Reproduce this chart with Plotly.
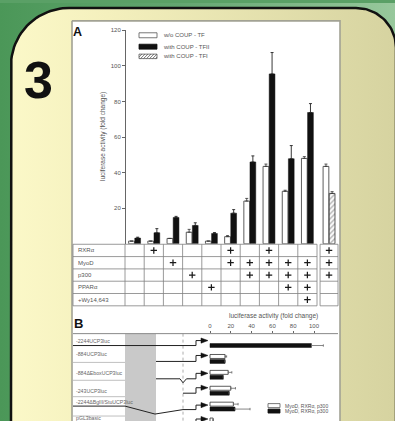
import numpy as np
import plotly.graph_objects as go

W, H = 395, 421
FONT = "Liberation Sans, Arial, sans-serif"

# ---------------- Panel A: luciferase activity per co-transfection ----------------
conditions = ["basal", "RXRα", "MyoD", "p300", "PPARα", "RXRα+MyoD", "MyoD+p300",
              "RXRα+MyoD+p300", "MyoD+p300+PPARα", "MyoD+p300+PPARα+Wy14,643",
              "RXRα+MyoD+p300 (TFI)"]
wo_coup = [1.5, 1.5, 3.0, 6.5, 1.5, 4.0, 24.0, 43.5, 29.5, 48.0, 43.5]
wo_coup_err = [None, None, None, 1.6, None, 0.6, 1.5, 1.3, 0.6, 1.0, 1.3]
with_tfii = [3.2, 6.2, 14.8, 10.3, 5.8, 17.2, 46.0, 95.5, 47.8, 73.8, None]
with_tfii_err = [0.5, 2.3, 0.6, 1.5, 0.5, 2.0, 3.4, 12.0, 7.4, 5.0, None]
with_tfi = [None] * 10 + [28.3]
with_tfi_err = [None] * 10 + [1.0]

factor_names = ["RXRα", "MyoD", "p300", "PPARα", "+Wy14,643"]
rxr = [0, 1, 0, 0, 0, 1, 0, 1, 0, 0, 1]
myod = [0, 0, 1, 0, 0, 1, 1, 1, 1, 1, 1]
p300 = [0, 0, 0, 1, 0, 0, 1, 1, 1, 1, 1]
ppar = [0, 0, 0, 0, 1, 0, 0, 0, 1, 1, 0]
wy = [0, 0, 0, 0, 0, 0, 0, 0, 0, 1, 0]
a_ticks = [20, 40, 60, 80, 100, 120]
a_legend = ["w/o COUP - TF", "with COUP - TFII", "with COUP - TFI"]

# ---------------- Panel B: promoter deletion constructs ----------------
constructs = ["-2244UCP3luc", "-884UCP3luc", "-884ΔEboxUCP3luc", "-243UCP3luc",
              "-2244ΔBglII/StuUCP3luc", "pGL3basic"]
b_wo = [None, 14.5, 17.5, 20.0, 22.5, 3.0]
b_wo_err = [None, 1.5, 3.5, 4.5, 4.5, None]
b_with = [97.5, 14.5, 12.8, 18.5, 24.0, None]
b_with_err = [11.5, None, None, None, 14.5, None]
b_ticks = [0, 20, 40, 60, 80, 100]
b_legend = ["MyoD, RXRα, p300", "MyoD, RXRα, p300"]


def fx(px):
    return px / W


def fy(py):
    return 1 - py / H


def ppath(points):
    return "M " + " L ".join(f"{fx(x):.5f},{fy(y):.5f}" for x, y in points)


def plus_only(err):
    return [0 if e is not None else None for e in err]


fig = go.Figure()

# ---------------- poster background (pixel coordinates on axes x / y) ----------------
fig.add_trace(go.Scatter(
    x=[0, W, W, 0, 0], y=[0, 0, H, H, 0], mode="lines", fill="toself",
    line=dict(width=0), hoverinfo="skip", showlegend=False,
    fillgradient=dict(type="horizontal",
                      colorscale=[[0, "#4b9758"], [0.45, "#63a670"], [1, "#97c89c"]])))

left, top, right = 11, 5, 396
rl, rr = 58, 40
th1 = np.linspace(np.pi, 1.5 * np.pi, 30)
th2 = np.linspace(1.5 * np.pi, 2 * np.pi, 30)
px_ = ([left] + list(left + rl + rl * np.cos(th1)) + list(right - rr + rr * np.cos(th2))
       + [right, left])
py_ = ([H + 10] + list(top + rl + rl * np.sin(th1)) + list(top + rr + rr * np.sin(th2))
       + [H + 10, H + 10])
fig.add_trace(go.Scatter(
    x=px_, y=py_, mode="lines", fill="toself", line=dict(color="#111", width=2.5),
    hoverinfo="skip", showlegend=False,
    fillgradient=dict(type="horizontal",
                      colorscale=[[0, "#fbf8c8"], [0.25, "#f4f0bd"], [1, "#d6d3a0"]])))

fig.add_trace(go.Scatter(
    x=[72, 340, 340, 72, 72], y=[18, 18, H + 10, H + 10, 18], mode="lines", fill="toself",
    fillcolor="white", line=dict(color="#a2a294", width=1.6), hoverinfo="skip",
    showlegend=False))

# ---------------- Panel A bars ----------------
COL_PX = 19.2          # table column width in pixels
X0_PX = 125.0          # pixel position of column boundary 0 (y-axis)
XA_LEFT, XA_RIGHT = 73.0, 338.0
xa_range = [(XA_LEFT - X0_PX) / COL_PX, (XA_RIGHT - X0_PX) / COL_PX]
tfi_left = 10.16
xa = [i + 0.5 for i in range(10)] + [(tfi_left + xa_range[1]) / 2]

bar_w = 0.3
fig.add_trace(go.Bar(
    x=xa, y=wo_coup, xaxis="x2", yaxis="y2", width=bar_w, offset=-0.31,
    marker=dict(color="white", line=dict(color="#333", width=0.8)),
    error_y=dict(type="data", symmetric=False, array=wo_coup_err,
                 arrayminus=plus_only(wo_coup_err), color="#333", thickness=0.8, width=1.5),
    hovertext=conditions, showlegend=False))
fig.add_trace(go.Bar(
    x=xa, y=with_tfii, xaxis="x2", yaxis="y2", width=bar_w, offset=0.01,
    marker=dict(color="#111", line=dict(color="#111", width=0.5)),
    error_y=dict(type="data", symmetric=False, array=with_tfii_err,
                 arrayminus=plus_only(with_tfii_err), color="#222", thickness=0.9, width=1.5),
    hovertext=conditions, showlegend=False))
fig.add_trace(go.Bar(
    x=xa, y=with_tfi, xaxis="x2", yaxis="y2", width=bar_w, offset=0.01,
    marker=dict(color="white", line=dict(color="#333", width=0.8),
                pattern=dict(shape="/", fgcolor="#444", bgcolor="white", size=3.5,
                             solidity=0.35)),
    error_y=dict(type="data", symmetric=False, array=with_tfi_err,
                 arrayminus=plus_only(with_tfi_err), color="#333", thickness=0.8, width=1.5),
    hovertext=conditions, showlegend=False))

# ---------------- Panel A factor table ----------------
factors = [rxr, myod, p300, ppar, wy]
px_x, px_y = [], []
for r, flags in enumerate(factors):
    for i, f in enumerate(flags):
        if f:
            px_x.append(xa[i])
            px_y.append(r + 0.5)
fig.add_trace(go.Scatter(
    x=px_x, y=px_y, xaxis="x2", yaxis="y3", mode="markers", hoverinfo="skip",
    marker=dict(symbol="cross-thin", size=4.6, line=dict(color="#1a1a1a", width=1.25)),
    showlegend=False))

# ---------------- Panel B bars ----------------
fig.add_trace(go.Bar(
    y=constructs, x=b_wo, orientation="h", xaxis="x4", yaxis="y4", width=0.25,
    offset=-0.28, marker=dict(color="white", line=dict(color="#333", width=0.8)),
    error_x=dict(type="data", symmetric=False, array=b_wo_err,
                 arrayminus=plus_only(b_wo_err), color="#666", thickness=0.8, width=1.2),
    showlegend=False))
fig.add_trace(go.Bar(
    y=constructs, x=b_with, orientation="h", xaxis="x4", yaxis="y4", width=0.25,
    offset=0.03, marker=dict(color="#111", line=dict(color="#111", width=0.5)),
    error_x=dict(type="data", symmetric=False, array=b_with_err,
                 arrayminus=plus_only(b_with_err), color="#666", thickness=0.8, width=1.2),
    showlegend=False))

# ---------------- shapes ----------------
shapes = []
TABLE_TOP, TABLE_BOT = 243.0, 305.0
GRID = dict(color="#808080", width=0.8)


def colpx(u):
    return X0_PX + u * COL_PX


n_rows = len(factor_names)
row_h = (TABLE_BOT - TABLE_TOP) / n_rows
# vertical table lines
for u in [xa_range[0]] + list(range(11)) + [tfi_left, xa_range[1]]:
    shapes.append(dict(type="line", xref="paper", yref="paper", x0=fx(colpx(u)),
                       x1=fx(colpx(u)), y0=fy(TABLE_TOP), y1=fy(TABLE_BOT), line=GRID))
# horizontal table lines
for r in range(n_rows + 1):
    yy = fy(TABLE_TOP + r * row_h)
    for a, b in [(xa_range[0], 10), (tfi_left, xa_range[1])]:
        shapes.append(dict(type="line", xref="paper", yref="paper", x0=fx(colpx(a)),
                           x1=fx(colpx(b)), y0=yy, y1=yy, line=GRID))

# legend swatches for panel A
LEG_X0, LEG_X1 = 139, 157
leg_rows = [(30, 35), (41.5, 46.5), (51.5, 56)]
shapes.append(dict(type="rect", xref="paper", yref="paper", x0=fx(LEG_X0), x1=fx(LEG_X1),
                   y0=fy(leg_rows[0][1]), y1=fy(leg_rows[0][0]), fillcolor="white",
                   line=dict(color="#555", width=0.8)))
shapes.append(dict(type="rect", xref="paper", yref="paper", x0=fx(LEG_X0), x1=fx(LEG_X1),
                   y0=fy(leg_rows[1][1]), y1=fy(leg_rows[1][0]), fillcolor="#111",
                   line=dict(color="#111", width=0.8)))
y_t, y_b = leg_rows[2]
hh = y_b - y_t
for x0 in np.arange(LEG_X0 - hh, LEG_X1, 3):
    xs, xe = max(x0, LEG_X0), min(x0 + hh, LEG_X1)
    shapes.append(dict(type="line", xref="paper", yref="paper",
                       x0=fx(xs), y0=fy(y_b - (xs - x0)), x1=fx(xe), y1=fy(y_b - (xe - x0)),
                       line=dict(color="#555", width=0.8)))
shapes.append(dict(type="rect", xref="paper", yref="paper", x0=fx(LEG_X0), x1=fx(LEG_X1),
                   y0=fy(y_b), y1=fy(y_t), line=dict(color="#555", width=0.8)))

# panel B: header rule, shaded region, dotted marker
B_TOP = 333.0
shapes.append(dict(type="rect", xref="paper", yref="paper", x0=fx(125), x1=fx(156),
                   y0=fy(H + 5), y1=fy(B_TOP), fillcolor="#c9c9c9", line=dict(width=0)))
shapes.append(dict(type="line", xref="paper", yref="paper", x0=fx(183), x1=fx(183),
                   y0=fy(B_TOP), y1=fy(H + 5), line=dict(color="#999", width=0.8, dash="dot")))
shapes.append(dict(type="line", xref="paper", yref="paper", x0=fx(73), x1=fx(338),
                   y0=fy(B_TOP), y1=fy(B_TOP), line=dict(color="#888", width=1)))

# label cell rules
for yy in [362, 380, 396.5, 416]:
    shapes.append(dict(type="line", xref="paper", yref="paper", x0=fx(73), x1=fx(125),
                       y0=fy(yy), y1=fy(yy), line=dict(color="#b0b0b0", width=0.8)))

# construct maps with promoter arrows
ARROW_X = 196
maps = [
    ([(73, 345), (ARROW_X, 345)], 340),
    ([(156, 361), (ARROW_X, 361)], 355),
    ([(156, 378.5), (180, 378.5), (183, 382.5), (186.5, 378.5), (ARROW_X, 378.5)], 373),
    ([(183, 393), (ARROW_X, 393)], 387.5),
    ([(73, 406), (125, 406), (155, 414), (183, 409.5), (ARROW_X, 409.5)], 405),
    ([(ARROW_X, 424)], 419),
]
LINE = dict(color="#222", width=1)
for pts, ay in maps:
    if len(pts) > 1:
        shapes.append(dict(type="path", xref="paper", yref="paper", path=ppath(pts),
                           line=LINE))
    base_y = pts[-1][1]
    shapes.append(dict(type="path", xref="paper", yref="paper",
                       path=ppath([(ARROW_X, base_y), (ARROW_X, ay), (202, ay)]), line=LINE))
    shapes.append(dict(type="path", xref="paper", yref="paper",
                       path=ppath([(201, ay - 2.6), (208, ay), (201, ay + 2.6)]) + " Z",
                       fillcolor="#111", line=dict(color="#111", width=0.5)))

# panel B legend swatches
shapes.append(dict(type="rect", xref="paper", yref="paper", x0=fx(268), x1=fx(280),
                   y0=fy(407.5), y1=fy(403.5), fillcolor="white",
                   line=dict(color="#555", width=0.8)))
shapes.append(dict(type="rect", xref="paper", yref="paper", x0=fx(268), x1=fx(280),
                   y0=fy(413), y1=fy(409), fillcolor="#111", line=dict(color="#111", width=0.8)))

# ---------------- annotations ----------------
TXT = "#555"
ann = []


def note(text, x, y, size, color=TXT, xanchor="center", yref="paper", family=FONT, **kw):
    ann.append(dict(text=text, x=x, y=y, xref="paper", yref=yref, xanchor=xanchor,
                    yanchor="middle", showarrow=False,
                    font=dict(family=family, size=size, color=color), **kw))


note("<b>3</b>", fx(38.5), fy(78), 52, color="#111",
     family="Liberation Sans Narrow, " + FONT)
note("<b>A</b>", fx(77.5), fy(29), 12.5, color="#111")
note("<b>B</b>", fx(78), fy(322.5), 13, color="#111")
note("luciferase activity (fold change)", fx(103), fy(135), 6.5, textangle=-90)
for (yt, yb), label in zip(leg_rows, a_legend):
    note(label, fx(161), fy((yt + yb) / 2), 6, xanchor="left")
for r, name in enumerate(factor_names):
    note(name, fx(76), r + 0.5, 6, xanchor="left", yref="y3")
note("luciferase activity (fold change)", fx(273), fy(315), 6.5)
label_py = [340, 354, 372.5, 390.5, 401.5, 418]
for yy, name in zip(label_py, constructs):
    note(name, fx(74), fy(yy), 5.2, color="#666", xanchor="left")
for yy, label in zip([405.5, 411], b_legend):
    note(label, fx(283), fy(yy), 5, xanchor="left")

# ---------------- layout ----------------
row_c0, row_pitch = 342.5, 16.0
fig.update_layout(
    width=W, height=H, margin=dict(l=0, r=0, t=0, b=0),
    paper_bgcolor="#5aa066", plot_bgcolor="rgba(0,0,0,0)",
    barmode="overlay", showlegend=False, font=dict(family=FONT),
    xaxis=dict(domain=[0, 1], range=[0, W], visible=False, fixedrange=True),
    yaxis=dict(domain=[0, 1], range=[H, 0], visible=False, fixedrange=True),
    xaxis2=dict(domain=[fx(XA_LEFT), fx(XA_RIGHT)], range=xa_range, anchor="y2",
                visible=False),
    yaxis2=dict(domain=[fy(242.5), fy(27.5)], range=[0, 120], anchor="free",
                position=fx(X0_PX), tickvals=a_ticks, ticks="outside", ticklen=3,
                tickcolor="#666", showline=True, linecolor="#666", linewidth=1,
                showgrid=False, zeroline=False,
                tickfont=dict(family=FONT, size=6, color=TXT)),
    yaxis3=dict(domain=[fy(TABLE_BOT), fy(TABLE_TOP)], range=[n_rows, 0], anchor="x2",
                visible=False),
    xaxis4=dict(domain=[fx(205), fx(338)], range=[-5 / 1.04, (338 - 210) / 1.04],
                anchor="y4", side="top", tickvals=b_ticks, ticks="outside", ticklen=2,
                tickcolor="#666", showline=False, showgrid=False, zeroline=False,
                tickfont=dict(family=FONT, size=6, color=TXT)),
    yaxis4=dict(domain=[0, fy(B_TOP)], type="category", categoryarray=constructs,
                range=[(H - row_c0) / row_pitch, (B_TOP - row_c0) / row_pitch],
                anchor="x4", visible=False),
    shapes=shapes, annotations=ann,
)

fig.write_html("out.html")
